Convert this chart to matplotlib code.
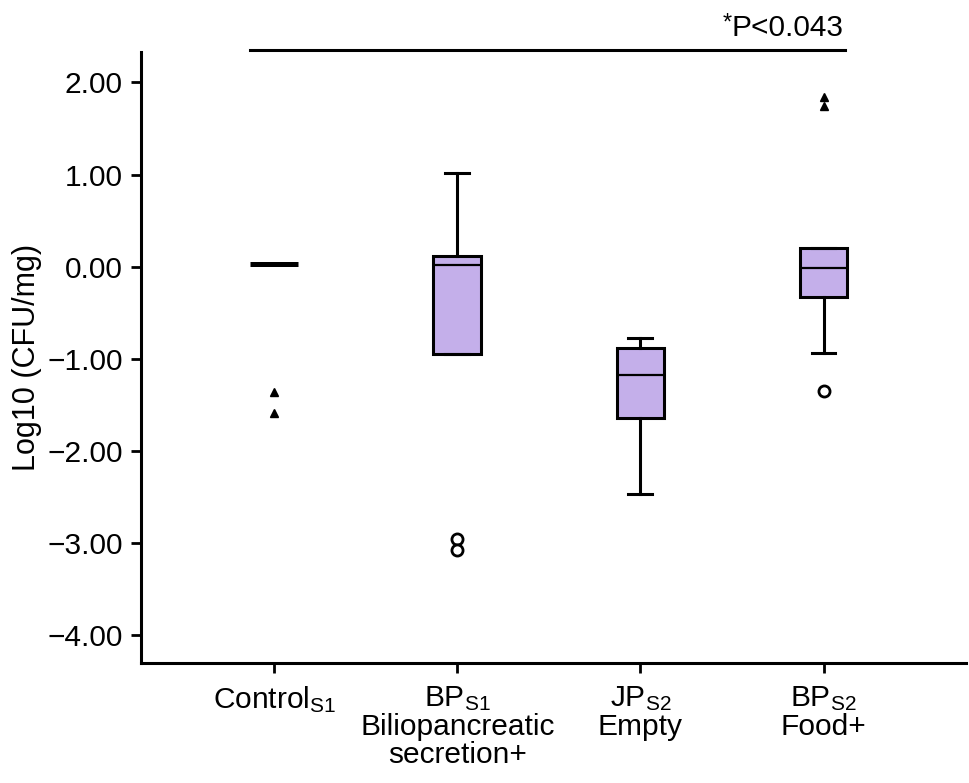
import matplotlib
matplotlib.use("Agg")
import matplotlib.pyplot as plt

plt.rcParams['font.family'] = ['Liberation Sans', 'DejaVu Sans']
plt.rcParams['mathtext.fontset'] = 'custom'
plt.rcParams['mathtext.rm'] = 'Liberation Sans'
plt.rcParams['mathtext.it'] = 'Liberation Sans'
plt.rcParams['mathtext.bf'] = 'Liberation Sans:bold'

# groups
labels = [r'Control$_{\mathrm{S1}}$',
          'BP$_{\\mathrm{S1}}$\nBiliopancreatic\nsecretion+',
          'JP$_{\\mathrm{S2}}$\nEmpty',
          'BP$_{\\mathrm{S2}}$\nFood+']
medians = [0.03, 0.02, -1.17, -0.01]
q1 = [0.03, -0.95, -1.64, -0.33]
q3 = [0.03, 0.12, -0.88, 0.20]
whis_lo = [0.03, -0.95, -2.47, -0.94]
whis_hi = [0.03, 1.02, -0.77, 0.20]
# outliers (circles) and extremes (triangles)
outliers = [[], [-2.96, -3.07], [], [-1.35]]
extremes = [[-1.36, -1.59], [], [], [1.84, 1.74]]

sig_star = '*'
sig_text = 'P<0.043'

box_color = '#c4afea'

stats = []
for i in range(len(labels)):
    stats.append(dict(med=medians[i], q1=q1[i], q3=q3[i],
                      whislo=whis_lo[i], whishi=whis_hi[i], fliers=[]))

fig = plt.figure(figsize=(9.69, 7.83), dpi=100)
ax = fig.add_axes([0.1455, 0.1533, 0.851, 0.7803])

pos = [1, 2, 3, 4]
ax.bxp(stats, positions=pos, widths=0.26, patch_artist=True,
       showfliers=False, manage_ticks=False,
       boxprops=dict(facecolor=box_color, edgecolor='black', linewidth=2.2),
       medianprops=dict(color='black', linewidth=1.6),
       whiskerprops=dict(color='black', linewidth=2.2),
       capprops=dict(color='black', linewidth=2.2),
       capwidths=0.13)

# control group has no spread: single thick line, no box fill
ax.patches[0].set_facecolor('none')
ax.patches[0].set_linewidth(0)
ax.lines[4].set_linewidth(3.6)
for ln in ax.lines[:4]:
    ln.set_visible(False)

for i, p in enumerate(pos):
    if outliers[i]:
        ax.plot([p] * len(outliers[i]), outliers[i], 'o', ms=8, mfc='white',
                mec='black', mew=2, zorder=5)
    if extremes[i]:
        ax.plot([p] * len(extremes[i]), extremes[i], '^', ms=6, color='black',
                zorder=5)

ax.set_xlim(0.273, 4.776)
ax.set_ylim(-4.30, 2.33)
ax.set_yticks([2, 1, 0, -1, -2, -3, -4])
ax.set_yticklabels(['2.00', '1.00', '0.00', '\u22121.00', '\u22122.00',
                    '\u22123.00', '\u22124.00'])
ax.set_xticks(pos)
ax.set_xticklabels(labels, linespacing=1.0)
ax.tick_params(axis='both', width=2, length=7, color='black')
ax.tick_params(axis='y', labelsize=21.5, pad=6)
ax.tick_params(axis='x', labelsize=21.5, pad=8)
ax.set_ylabel('Log10 (CFU/mg)', fontsize=22, labelpad=4)

for s in ['top', 'right']:
    ax.spines[s].set_visible(False)
for s in ['left', 'bottom']:
    ax.spines[s].set_linewidth(2.2)

# significance line
ax.plot([0.87, 4.12], [2.35, 2.35], color='black', lw=2.2, clip_on=False)
t = ax.text(4.11, 2.44, sig_text, ha='right', va='bottom', fontsize=21.5)
ax.annotate(sig_star, xy=(0, 1), xycoords=t, ha='right', va='top',
            fontsize=17, xytext=(0, 1), textcoords='offset points')

fig.savefig('out.png', dpi=100)
